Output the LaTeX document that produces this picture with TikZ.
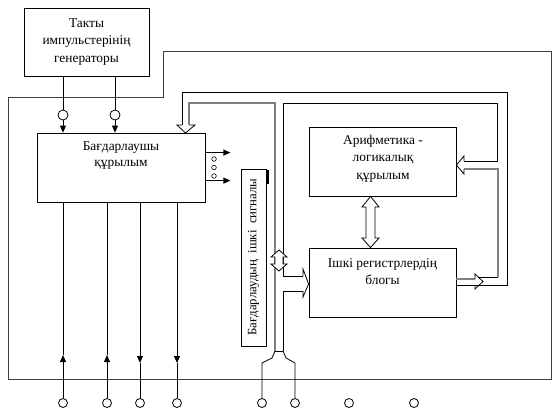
\documentclass[tikz,border=0pt]{standalone}
\usepackage{fontspec}
\setmainfont{Liberation Serif}
\usetikzlibrary{arrows.meta,calc}
\begin{document}
\begin{tikzpicture}[x=1pt,y=-1pt,line width=0.8pt,
  box/.style={draw,rectangle,inner sep=0pt},
  pin/.style={draw,circle,minimum size=9pt,inner sep=0pt,fill=white},
  dot/.style={draw,circle,minimum size=4.6pt,inner sep=0pt,line width=0.6pt},
  lbl/.style={align=center,font=\fontsize{13.4}{17.5}\selectfont,inner sep=0pt},
  fa/.style={-{Triangle[width=6pt,length=7pt]}},
  glin/.style={draw=black!50,line width=1.2pt},
  frame/.style={draw=black!75,line width=0.9pt}]
\useasboundingbox (0,0) rectangle (557,418);

% outer frame
\draw[frame] (8,97) -- (163,97) -- (163,51) -- (551,51) -- (551,379) -- (8,379) -- cycle;

% boxes
\node[box,minimum width=125pt,minimum height=68pt] (gen) at (86.5,42) {};
\node[lbl] (genT) at (86.5,42) {Такты\\импульстерінің\\генераторы};
\node[box,minimum width=168pt,minimum height=69pt] (prog) at (121,167.5) {};
\node[lbl,font=\fontsize{13.4}{16}\selectfont] (progT) at (121,155.5) {Бағдарлаушы\\құрылым};
\node[box,minimum width=147pt,minimum height=69pt] (alu) at (382.5,161.5) {};
\node[lbl] (aluT) at (383,158.5) {Арифметика -\\логикалық\\құрылым};
\node[box,minimum width=147pt,minimum height=69pt] (reg) at (382.5,282.5) {};
\node[lbl] (regT) at (382.5,271.5) {Ішкі регистрлердің\\блогы};
\node[box,minimum width=25pt,minimum height=177pt] (sig) at (253.5,257.5) {};
\node[lbl,rotate=90,font=\fontsize{12.8}{16}\selectfont] (sigT) at (253.5,257) {Бағдарлаудың\ \ ішкі\ \ сигналы};
\draw[line width=2.5pt] (268,170) -- (268,184);

% generator pins
\node[pin,minimum size=10pt] (t1) at (63,115) {};
\node[pin,minimum size=10pt] (t2) at (115,115) {};
\draw (gen.south -| t1) -- (t1.north);
\draw (gen.south -| t2) -- (t2.north);
\draw[fa] (t1.south) -- (t1 |- prog.north);
\draw[fa] (t2.south) -- (t2 |- prog.north);

% outputs of control unit
\draw[fa] ($(prog.north east)+(0,20)$) -- ++(25,0);
\draw[fa] ($(prog.north east)+(0,48)$) -- ++(25,0);
\node[dot] (d1) at (214,159) {};
\node[dot] (d2) at (214,167.5) {};
\node[dot] (d3) at (214,176) {};

% bottom pins
\node[pin] (b1) at (63,403) {};
\node[pin] (b2) at (107,403) {};
\node[pin] (b3) at (140,403) {};
\node[pin] (b4) at (177,403) {};
\node[pin] (b5) at (262,403) {};
\node[pin] (b6) at (295,403) {};
\node[pin] (b7) at (349,403) {};
\node[pin] (b8) at (414,403) {};
\coordinate (u1) at ($(b1)+(0,-48)$);
\coordinate (u2) at ($(b2)+(0,-48)$);
\coordinate (u3) at ($(b3)+(0,-40)$);
\coordinate (u4) at ($(b4)+(0,-40)$);
\draw[fa] (b1.north) -- (u1);
\draw (u1) -- (b1 |- prog.south);
\draw[fa] (b2.north) -- (u2);
\draw (u2) -- (b2 |- prog.south);
\draw[fa] (b3 |- prog.south) -- (u3);
\draw (u3) -- (b3.north);
\draw[fa] (b4 |- prog.south) -- (u4);
\draw (u4) -- (b4.north);

% feedback loop into control unit
\draw (182,125) -- (182,92) -- (507,92) -- (507,285) -- (reg.east |- 0,285);
\draw (182,125) -- (177,125) -- (185.5,133) -- (195,125) -- (189,125);
\draw[glin] (189,125) -- (189,103) -- (275,103) -- (275,351);

% bus right line and arrow into ALU
\draw (303,276) -- (283,276) -- (283,103) -- (497,103) -- (497,161) -- (464,161);
\draw (464,161) -- (464,156) -- (alu.east |- 0,165) -- (464,174) -- (464,169);
\draw[glin] (464,169) -- (498,169) -- (498,277);
\draw (498,277) -- (478,277);

% arrow out of registers
\draw[glin] (reg.east |- 0,279) -- (475,279);
\draw (475,279) -- (475,274) -- (483,281.5) -- (475,289) -- (475,285);

% bus arrow into registers
\draw (283,291) -- (303,291);
\draw (303,276) -- (303,269) -- (reg.west |- 0,284) -- (303,297) -- (303,291);
\draw (283,291) -- (283,351);

% bus flare to pins
\draw (275,351) -- (283,351);
\draw (275,351) -- (272,358) -- (262,363) -- (b5.north);
\draw (283,351) -- (286,358) -- (295,363) -- (b6.north);

% bidirectional arrow on bus
\draw[fill=white] (279,250) -- (287,257) -- (283,257) -- (283,264) -- (287,264) -- (279,271)
  -- (271,264) -- (275,264) -- (275,257) -- (271,257) -- cycle;

% bidirectional arrow ALU <-> registers
\draw[fill=white] ($(alu.south)+(-12,0)$) -- (379,207) -- (375,207) -- (375,238) -- (379,238)
  -- ($(reg.north)+(-12,0)$) -- (362,238) -- (366,238) -- (366,207) -- (362,207) -- cycle;
\end{tikzpicture}
\end{document}
